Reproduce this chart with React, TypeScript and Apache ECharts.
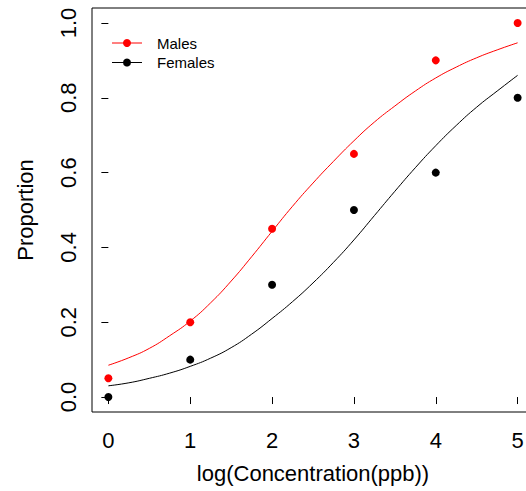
import React, { useEffect, useRef } from "react";
import * as echarts from "echarts";

const xTicks = [0, 1, 2, 3, 4, 5];
const yTicks = [0, 0.2, 0.4, 0.6, 0.8, 1.0];
const dose = [0, 1, 2, 3, 4, 5];
const malesObs = [0.05, 0.2, 0.45, 0.65, 0.9, 1.0];
const femalesObs = [0, 0.1, 0.3, 0.5, 0.6, 0.8];
const curveX = [0, 0.25, 0.5, 0.75, 1, 1.25, 1.5, 1.75, 2, 2.25, 2.5, 2.75, 3, 3.25, 3.5, 3.75, 4, 4.25, 4.5, 4.75, 5];
const malesFit = [0.085, 0.105, 0.13, 0.164, 0.203, 0.252, 0.31, 0.375, 0.443, 0.51, 0.572, 0.63, 0.685, 0.735, 0.778, 0.818, 0.853, 0.882, 0.907, 0.928, 0.947];
const femalesFit = [0.03, 0.038, 0.05, 0.064, 0.082, 0.104, 0.132, 0.168, 0.21, 0.255, 0.305, 0.36, 0.42, 0.485, 0.55, 0.613, 0.672, 0.726, 0.775, 0.818, 0.86];
const seriesNames = ["Males", "Females"];
const seriesColors = ["#ff0000", "#000000"];

const FONT = "'Liberation Sans', Arial, Helvetica, sans-serif";

export default function App() {
  const ref = useRef<HTMLDivElement>(null);
  useEffect(() => {
    if (!ref.current) return;
    const chart = echarts.init(ref.current, undefined, { renderer: "svg" });
    const pts = (xs: number[], ys: number[]) => xs.map((x, i) => [x, ys[i]]);
    const legendItems: any[] = [];
    seriesNames.forEach((name, i) => {
      const cy = 43 + i * 19.5;
      legendItems.push(
        { type: "line", shape: { x1: 112, y1: cy, x2: 142, y2: cy }, style: { stroke: seriesColors[i], lineWidth: 1 } },
        { type: "circle", shape: { cx: 127, cy, r: 4 }, style: { fill: seriesColors[i] } },
        { type: "text", x: 157, y: cy, style: { text: name, fontSize: 15, fontFamily: FONT, fill: "#000", verticalAlign: "middle", align: "left" } }
      );
    });
    chart.setOption({
      animation: false,
      backgroundColor: "#ffffff",
      textStyle: { fontFamily: FONT },
      grid: { left: 92, top: 8, width: 442, height: 404, show: true, borderColor: "#000", borderWidth: 1, backgroundColor: "transparent", containLabel: false, outerBoundsMode: "none" },
      xAxis: {
        type: "value",
        min: -0.2,
        max: 5.2,
        axisLine: { show: false },
        splitLine: { show: false },
        axisTick: { show: true, customValues: xTicks, length: 7, inside: false, lineStyle: { color: "#000" } },
        axisLabel: { customValues: xTicks, fontSize: 22, color: "#000", margin: 17, fontFamily: FONT },
        name: "log(Concentration(ppb))",
        nameLocation: "middle",
        nameGap: 50,
        nameTextStyle: { fontSize: 22, color: "#000", fontFamily: FONT },
      },
      yAxis: {
        type: "value",
        min: -0.04,
        max: 1.04,
        axisLine: { show: false },
        splitLine: { show: false },
        axisTick: { show: true, customValues: yTicks, length: 7, inside: false, lineStyle: { color: "#000" } },
        axisLabel: { customValues: yTicks, rotate: 90, fontSize: 22, color: "#000", margin: 13, fontFamily: FONT, formatter: (v: number) => v.toFixed(1) },
        name: "Proportion",
        nameLocation: "middle",
        nameGap: 56,
        nameRotate: 90,
        nameTextStyle: { fontSize: 22, color: "#000", fontFamily: FONT },
      },
      series: [
        { name: "Males fit", type: "line", data: pts(curveX, malesFit), smooth: true, showSymbol: false, symbol: "none", lineStyle: { color: seriesColors[0], width: 1 }, z: 2 },
        { name: "Females fit", type: "line", data: pts(curveX, femalesFit), smooth: true, showSymbol: false, symbol: "none", lineStyle: { color: seriesColors[1], width: 1 }, z: 2 },
        { name: "Males", type: "scatter", data: pts(dose, malesObs), symbol: "circle", symbolSize: 8, itemStyle: { color: seriesColors[0], opacity: 1 }, z: 3 },
        { name: "Females", type: "scatter", data: pts(dose, femalesObs), symbol: "circle", symbolSize: 8, itemStyle: { color: seriesColors[1], opacity: 1 }, z: 3 },
      ],
      graphic: legendItems,
    });
    return () => chart.dispose();
  }, []);
  return <div ref={ref} style={{ position: "fixed", left: 0, top: 0, width: 526, height: 491 }} />;
}
